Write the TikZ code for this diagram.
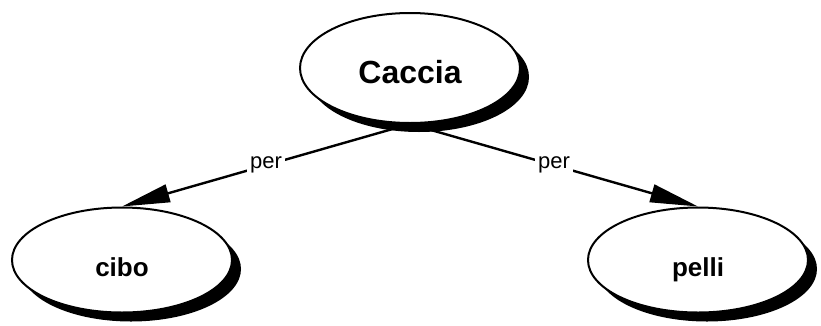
\documentclass[tikz,border=0pt]{standalone}
\usepackage{fontspec}
\setmainfont{Liberation Sans}
\usetikzlibrary{shapes.geometric,shadows,arrows.meta}
\tikzstyle{concept}=[ellipse,draw,line width=2pt,fill=white,minimum width=220pt,minimum height=105pt,inner sep=0pt,
  text height=32pt,text depth=0pt,
  drop shadow={shadow xshift=9pt,shadow yshift=-9pt,fill=black,opacity=1}]
\tikzstyle{link}=[line width=2.4pt,-{Triangle[length=48pt,width=18pt]}]
\tikzstyle{linklabel}=[fill=white,inner sep=3pt,font=\fontsize{22}{24}\selectfont]

\begin{document}
\begin{tikzpicture}[x=1pt,y=-1pt]
    \useasboundingbox (0,0) rectangle (821,325);
    \node[concept,minimum height=110pt,text height=31pt,font=\fontsize{32}{36}\selectfont\bfseries] (caccia) at (410,68) {Caccia};
    \node[concept,font=\fontsize{26}{30}\selectfont\bfseries] (cibo) at (122,260) {cibo};
    \node[concept,font=\fontsize{26}{30}\selectfont\bfseries] (pelli) at (698,260) {pelli};

    \foreach \to in {cibo,pelli}
    \draw[link] (caccia.south) -- node[linklabel] {per} (\to.north);
\end{tikzpicture}
\end{document}
